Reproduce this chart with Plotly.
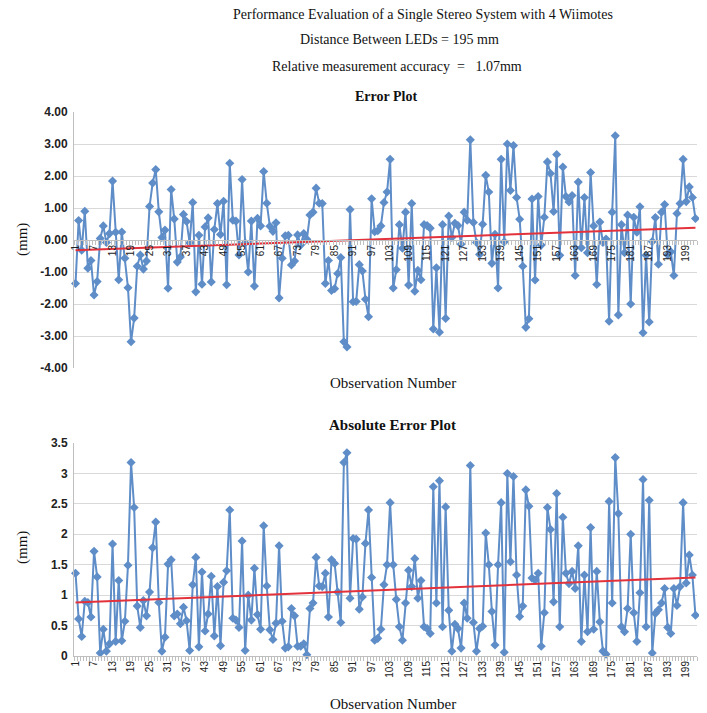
import plotly.graph_objects as go

# The page body adds an 8 px margin, so the figure is drawn 8 px smaller and
# every pixel position below is measured in the 707x713 window.
W, H = 707, 713
OFF = 8
FW, FH = W - OFF, H - OFF

# ---------------- data ----------------
error_mm = [
    -1.36, 0.61, -0.32, 0.90, -0.88, -0.64, -1.72, -1.30, 0.05, 0.44,
    -0.08, 0.20, 1.84, 0.24, -1.24, 0.25, -0.57, -1.49, -3.18, -2.44,
    -0.82, -0.47, -0.91, -0.66, 1.05, 1.78, 2.20, 0.88, 0.08, 0.31,
    -1.51, 1.58, 0.66, -0.69, -0.53, 0.80, 0.58, -0.09, 1.17, -1.62,
    0.15, -1.38, 0.41, 0.69, -1.31, 0.33, 1.14, 0.17, 1.21, -1.40,
    2.40, 0.62, 0.59, -0.47, 1.89, -0.09, -1.00, 0.59, -1.44, 0.68,
    0.44, 2.14, 1.15, 0.43, 0.27, 0.54, -1.81, -0.57, 0.13, 0.15,
    -0.78, -0.66, 0.16, -0.16, 0.20, 0.02, 0.78, 0.87, 1.62, 1.15,
    1.14, -1.36, -0.64, -1.58, -1.52, -1.05, -0.55, -3.18, -3.34, 0.95,
    -1.93, -1.92, -0.77, -0.97, -1.85, -2.40, 1.29, 0.26, 0.29, 0.44,
    1.17, 1.50, 2.52, -1.50, -0.93, 0.48, -0.26, 0.87, -1.41, 1.14,
    -1.60, -0.95, -1.24, 0.48, 0.45, 0.37, -2.78, -0.87, -2.88, 0.48,
    -2.45, 0.75, 0.08, 0.52, 0.45, -0.13, 0.87, 0.62, 3.13, 0.55,
    -0.08, -0.45, 0.49, 2.02, 1.50, -0.73, 0.18, -1.50, 2.52, -0.06,
    3.00, 1.55, 2.95, 1.33, 0.65, -0.82, -2.73, -2.46, 1.28, -1.25,
    1.36, -0.16, 0.71, 2.44, 2.08, 0.89, 2.67, -0.48, 2.28, 1.36,
    1.19, 1.39, -1.11, 1.81, -0.24, 1.33, -0.40, 2.11, 0.44, -1.39,
    0.56, -0.08, 0.03, -2.54, 0.87, 3.26, -2.34, 0.48, -0.40, 0.78,
    -2.00, 0.71, 0.24, 1.04, -2.90, -0.48, -2.56, -0.05, 0.70, -0.76,
    0.87, 1.11, -0.47, -0.37, -1.11, 0.83, 1.14, 2.52, 1.20, 1.66,
    1.33, 0.67,
]

abs_error_mm = [
    1.36, 0.61, 0.32, 0.90, 0.88, 0.64, 1.72, 1.30, 0.05, 0.44,
    0.08, 0.20, 1.84, 0.24, 1.24, 0.25, 0.57, 1.49, 3.18, 2.44,
    0.82, 0.47, 0.91, 0.66, 1.05, 1.78, 2.20, 0.88, 0.08, 0.31,
    1.51, 1.58, 0.66, 0.69, 0.53, 0.80, 0.58, 0.09, 1.17, 1.62,
    0.15, 1.38, 0.41, 0.69, 1.31, 0.33, 1.14, 0.17, 1.21, 1.40,
    2.40, 0.62, 0.59, 0.47, 1.89, 0.09, 1.00, 0.59, 1.44, 0.68,
    0.44, 2.14, 1.15, 0.43, 0.27, 0.54, 1.81, 0.57, 0.13, 0.15,
    0.78, 0.66, 0.16, 0.16, 0.20, 0.02, 0.78, 0.87, 1.62, 1.15,
    1.14, 1.36, 0.64, 1.58, 1.52, 1.05, 0.55, 3.18, 3.34, 0.95,
    1.93, 1.92, 0.77, 0.97, 1.85, 2.40, 1.29, 0.26, 0.29, 0.44,
    1.17, 1.50, 2.52, 1.50, 0.93, 0.48, 0.26, 0.87, 1.41, 1.14,
    1.60, 0.95, 1.24, 0.48, 0.45, 0.37, 2.78, 0.87, 2.88, 0.48,
    2.45, 0.75, 0.08, 0.52, 0.45, 0.13, 0.87, 0.62, 3.13, 0.55,
    0.08, 0.45, 0.49, 2.02, 1.50, 0.73, 0.18, 1.50, 2.52, 0.06,
    3.00, 1.55, 2.95, 1.33, 0.65, 0.82, 2.73, 2.46, 1.28, 1.25,
    1.36, 0.16, 0.71, 2.44, 2.08, 0.89, 2.67, 0.48, 2.28, 1.36,
    1.19, 1.39, 1.11, 1.81, 0.24, 1.33, 0.40, 2.11, 0.44, 1.39,
    0.56, 0.08, 0.03, 2.54, 0.87, 3.26, 2.34, 0.48, 0.40, 0.78,
    2.00, 0.71, 0.24, 1.04, 2.90, 0.48, 2.56, 0.05, 0.70, 0.76,
    0.87, 1.11, 0.47, 0.37, 1.11, 0.83, 1.14, 2.52, 1.20, 1.66,
    1.33, 0.67,
]

observation = list(range(1, len(error_mm) + 1))

# linear trend lines (start / end values)
trend_obs = [1, len(error_mm)]
trend_error = [-0.32, 0.38]
trend_abs = [0.88, 1.29]

x_tick_labels = [1, 7, 13, 19, 25, 31, 37, 43, 49, 55, 61, 67, 73, 79, 85, 91,
                 97, 103, 109, 115, 121, 127, 133, 139, 145, 151, 157, 163, 169,
                 175, 181, 187, 193, 199]
top_y_ticks = [-4, -3, -2, -1, 0, 1, 2, 3, 4]
top_y_text = ["-4.00", "-3.00", "-2.00", "-1.00", "0.00", "1.00", "2.00", "3.00", "4.00"]
bot_y_ticks = [0, 0.5, 1, 1.5, 2, 2.5, 3, 3.5]
bot_y_text = ["0", "0.5", "1", "1.5", "2", "2.5", "3", "3.5"]

NB = "\u00a0"
title_lines = [
    "Performance Evaluation of a Single Stereo System with 4 Wiimotes",
    "Distance Between LEDs = 195 mm",
    "Relative measurement accuracy" + NB * 2 + "=" + NB * 3 + "1.07mm",
]

# ---------------- styling ----------------
def px(x):
    return (x - OFF) / FW

def py(y):
    return 1 - (y - OFF) / FH

BLUE = "#5E8DC8"
RED = "#E3323C"
GRID = "#D9D9D9"
AXIS = "#BFBFBF"
SERIF = "Liberation Serif, Times New Roman, serif"
SANS = "Liberation Sans, Arial, sans-serif"

xdom = [px(74), px(697)]
top_dom = [py(368), py(112)]
bot_dom = [py(656), py(443)]

fig = go.Figure()

fig.add_trace(go.Scatter(
    x=observation, y=error_mm, mode="lines+markers",
    line=dict(color=BLUE, width=2),
    marker=dict(symbol="diamond", size=7, color=BLUE),
    xaxis="x", yaxis="y", showlegend=False, cliponaxis=False))
fig.add_trace(go.Scatter(
    x=trend_obs, y=trend_error, mode="lines",
    line=dict(color=RED, width=2), xaxis="x", yaxis="y", showlegend=False))

fig.add_trace(go.Scatter(
    x=observation, y=abs_error_mm, mode="lines+markers",
    line=dict(color=BLUE, width=2),
    marker=dict(symbol="diamond", size=7, color=BLUE),
    xaxis="x2", yaxis="y2", showlegend=False, cliponaxis=False))
fig.add_trace(go.Scatter(
    x=trend_obs, y=trend_abs, mode="lines",
    line=dict(color=RED, width=2), xaxis="x2", yaxis="y2", showlegend=False))

N = len(error_mm)
xaxis_common = dict(
    range=[0.5, N + 0.5], domain=xdom, automargin=False,
    tickmode="array", tickvals=x_tick_labels,
    ticktext=[str(v) for v in x_tick_labels],
    tickangle=-90, tickfont=dict(family=SANS, size=10, color="#222"),
    showgrid=False, zeroline=False, showline=True, linecolor=AXIS, linewidth=1,
    ticks="",
    minor=dict(ticks="outside", tick0=0.5, dtick=1, ticklen=4,
               tickcolor=AXIS, showgrid=False),
)
yfont = dict(family=SANS, size=12, color="#222", weight="bold")

fig.update_layout(
    width=FW, height=FH,
    margin=dict(l=0, r=0, t=0, b=0),
    paper_bgcolor="white", plot_bgcolor="white",
    xaxis=dict(anchor="free", position=(top_dom[0] + top_dom[1]) / 2,
               **xaxis_common),
    yaxis=dict(domain=top_dom, range=[-4, 4], tickmode="array", automargin=False,
               tickvals=top_y_ticks, ticktext=top_y_text, tickfont=yfont,
               ticklabelstandoff=3,
               showgrid=True, gridcolor=GRID, gridwidth=1, zeroline=False,
               showline=True, linecolor=AXIS, anchor="x", ticks=""),
    xaxis2=dict(anchor="y2", **xaxis_common),
    yaxis2=dict(domain=bot_dom, range=[0, 3.5], tickmode="array", automargin=False,
                tickvals=bot_y_ticks, ticktext=bot_y_text, tickfont=yfont,
                ticklabelstandoff=3,
                showgrid=True, gridcolor=GRID, gridwidth=1, zeroline=False,
                showline=True, linecolor=AXIS, anchor="x2", ticks=""),
)

ann = []
title_specs = [(423, 14, 14), (399, 40, 14), (397, 66, 14)]
for text, (x, y, s) in zip(title_lines, title_specs):
    ann.append(dict(text=text, x=px(x), y=py(y), xref="paper", yref="paper",
                    showarrow=False, xanchor="center", yanchor="middle",
                    font=dict(family=SERIF, size=s, color="#111")))
ann.append(dict(text="<b>Error Plot</b>", x=px(386), y=py(97), xref="paper", yref="paper",
                showarrow=False, xanchor="center", yanchor="middle",
                font=dict(family=SERIF, size=14, color="#111")))
ann.append(dict(text="<b>Absolute Error Plot</b>", x=px(392), y=py(425), xref="paper",
                yref="paper", showarrow=False, xanchor="center", yanchor="middle",
                font=dict(family=SERIF, size=15, color="#111")))
for y in (383, 704):
    ann.append(dict(text="Observation Number", x=px(393), y=py(y), xref="paper",
                    yref="paper", showarrow=False, xanchor="center", yanchor="middle",
                    font=dict(family=SERIF, size=15, color="#111")))
for y in (240, 548):
    ann.append(dict(text="(mm)", x=px(22), y=py(y), xref="paper", yref="paper",
                    showarrow=False, xanchor="center", yanchor="middle", textangle=-90,
                    font=dict(family=SERIF, size=15, color="#111")))
fig.update_layout(annotations=ann)

fig.write_html("out.html")
